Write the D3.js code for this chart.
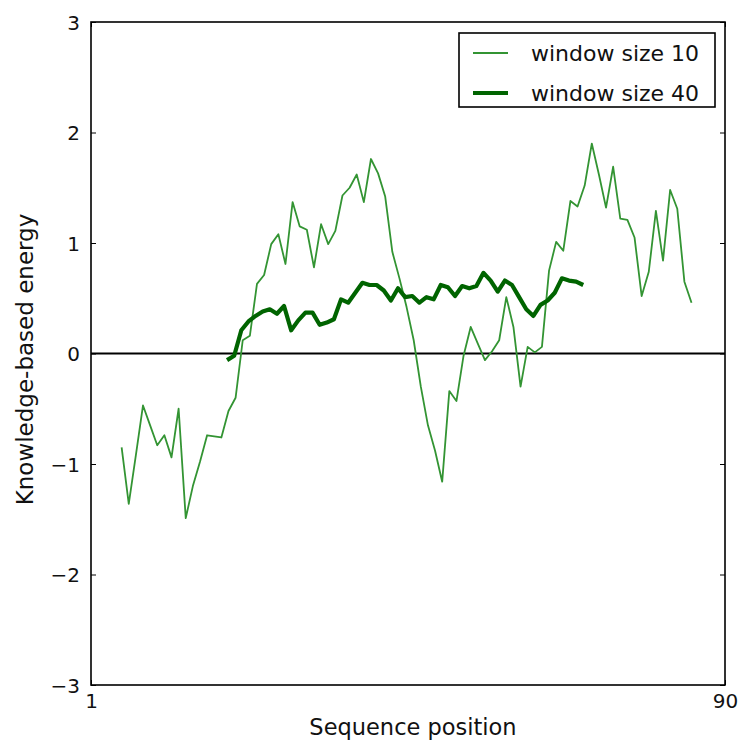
<!DOCTYPE html>
<html>
<head>
<meta charset="utf-8">
<script src="https://cdn.jsdelivr.net/npm/d3@7"></script>
<style>
  body { margin: 0; background: #fff; }
  text { font-family: "DejaVu Sans", sans-serif; fill: #111; }
</style>
</head>
<body>
<svg id="chart" width="741" height="744"></svg>
<script>
// window size 10 (81 windows, first centre near position 5.3)
const win10Start = 5.3;
const win10 = [
  -0.85, -1.36, -0.92, -0.47, -0.65, -0.83, -0.74, -0.94, -0.50, -1.49,
  -1.20, -0.98, -0.74, -0.75, -0.76, -0.52, -0.40, 0.12, 0.16, 0.63,
  0.71, 0.99, 1.08, 0.81, 1.37, 1.15, 1.12, 0.78, 1.17, 0.99,
  1.11, 1.43, 1.50, 1.62, 1.37, 1.76, 1.63, 1.42, 0.92, 0.68,
  0.42, 0.12, -0.30, -0.65, -0.88, -1.16, -0.34, -0.43, -0.02, 0.24,
  0.09, -0.06, 0.02, 0.12, 0.51, 0.24, -0.30, 0.06, 0.01, 0.06,
  0.75, 1.01, 0.93, 1.38, 1.33, 1.52, 1.90, 1.62, 1.32, 1.69,
  1.22, 1.21, 1.05, 0.52, 0.74, 1.29, 0.84, 1.48, 1.31, 0.65,
  0.46
];

// window size 40 (51 windows)
const win40Start = 20.1;
const win40 = [
  -0.06, -0.02, 0.21, 0.29, 0.34, 0.38, 0.40, 0.36, 0.43, 0.21,
  0.30, 0.37, 0.37, 0.26, 0.28, 0.31, 0.49, 0.46, 0.55, 0.64,
  0.62, 0.62, 0.57, 0.48, 0.59, 0.51, 0.52, 0.46, 0.51, 0.49,
  0.62, 0.60, 0.52, 0.61, 0.59, 0.61, 0.73, 0.66, 0.56, 0.66,
  0.62, 0.51, 0.40, 0.34, 0.44, 0.48, 0.55, 0.68, 0.66, 0.65,
  0.62
];

const xTicks = [1, 90];
const yTicks = [-3, -2, -1, 0, 1, 2, 3];
const legendLabels = ["window size 10", "window size 40"];

const margin = {top: 22, right: 16, bottom: 59, left: 91},
      width = 741 - margin.left - margin.right,
      height = 744 - margin.top - margin.bottom;

const svg = d3.select("#chart");
const g = svg.append("g")
  .attr("transform", "translate(" + margin.left + "," + margin.top + ")");

const x = d3.scaleLinear().domain([1, 90]).range([0, width]);
const y = d3.scaleLinear().domain([-3, 3]).range([height, 0]);

// zero line
g.append("line")
  .attr("x1", 0).attr("x2", width)
  .attr("y1", y(0)).attr("y2", y(0))
  .attr("stroke", "#000").attr("stroke-width", 2);

const line = d3.line().x(d => x(d[0])).y(d => y(d[1]));
const thin = win10.map((v, i) => [win10Start + i, v]);
const thick = win40.map((v, i) => [win40Start + i, v]);

g.append("path").datum(thin)
  .attr("d", line).attr("fill", "none")
  .attr("stroke", "#339433").attr("stroke-width", 1.8)
  .attr("stroke-linejoin", "round");

g.append("path").datum(thick)
  .attr("d", line).attr("fill", "none")
  .attr("stroke", "#006400").attr("stroke-width", 4.2)
  .attr("stroke-linejoin", "round");

// axes with inward ticks, matplotlib style
const fmt = d => d < 0 ? "\u2212" + Math.abs(d) : String(d);
const axLeft = g.append("g")
  .call(d3.axisLeft(y).tickValues(yTicks).tickSize(-5).tickPadding(11).tickFormat(fmt));
const axRight = g.append("g").attr("transform", "translate(" + width + ",0)")
  .call(d3.axisRight(y).tickValues(yTicks).tickSize(-5).tickFormat(""));
const axBottom = g.append("g").attr("transform", "translate(0," + height + ")")
  .call(d3.axisBottom(x).tickValues(xTicks).tickSize(-5).tickPadding(9).tickFormat(d3.format("d")));
const axTop = g.append("g")
  .call(d3.axisTop(x).tickValues(xTicks).tickSize(-5).tickFormat(""));

[axLeft, axRight, axBottom, axTop].forEach(a => {
  a.select(".domain").remove();
  a.selectAll(".tick line").attr("stroke", "#000").attr("stroke-width", 1);
  a.selectAll("text").style("font-size", "20px").style("font-family", "DejaVu Sans");
});
axLeft.selectAll("text").attr("dy", "0.36em");

// frame
g.append("rect")
  .attr("width", width).attr("height", height)
  .attr("fill", "none").attr("stroke", "#000").attr("stroke-width", 1.6);

// axis titles
svg.append("text")
  .attr("x", margin.left + width / 2 + 5).attr("y", 735)
  .attr("text-anchor", "middle").style("font-size", "22.5px")
  .text("Sequence position");

svg.append("text")
  .attr("transform", "rotate(-90)")
  .attr("x", -(margin.top + height / 2 + 6)).attr("y", 33)
  .attr("text-anchor", "middle").style("font-size", "23px")
  .text("Knowledge-based energy");

// legend
const lg = g.append("g").attr("transform", "translate(" + (x(1) + 368) + ",11)");
lg.append("rect")
  .attr("width", 256).attr("height", 74)
  .attr("fill", "#fff").attr("stroke", "#000").attr("stroke-width", 1.6);
const styles = [{c: "#339433", w: 1.8}, {c: "#006400", w: 4.2}];
legendLabels.forEach((t, i) => {
  const yy = 20 + i * 40;
  lg.append("line")
    .attr("x1", 14).attr("x2", 49).attr("y1", yy).attr("y2", yy)
    .attr("stroke", styles[i].c).attr("stroke-width", styles[i].w);
  lg.append("text")
    .attr("x", 72).attr("y", yy).attr("dy", "0.36em")
    .style("font-size", "22px")
    .text(t);
});
</script>
</body>
</html>
